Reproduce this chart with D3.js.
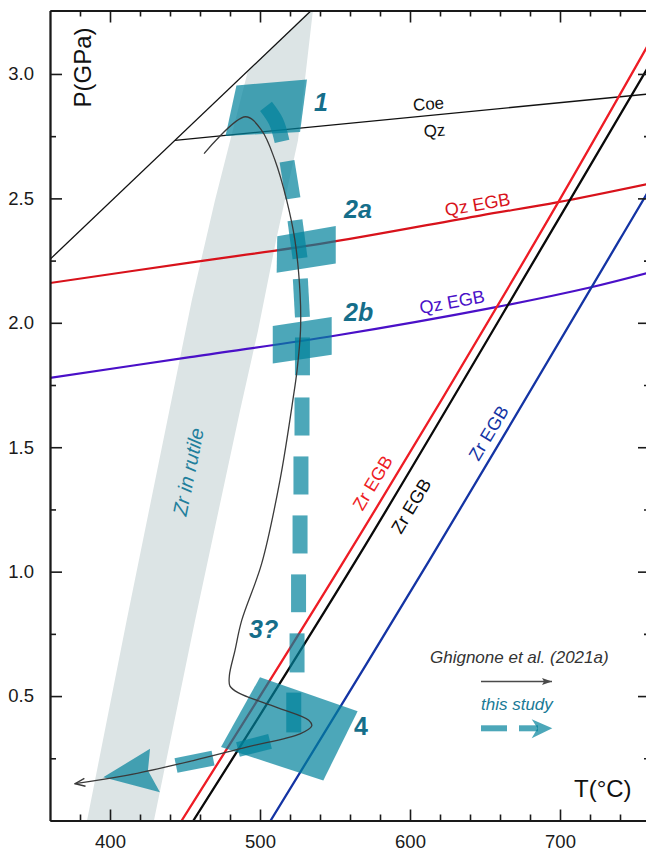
<!DOCTYPE html>
<html><head><meta charset="utf-8">
<script src="https://cdn.jsdelivr.net/npm/d3@7"></script>
<style>
html,body{margin:0;padding:0;background:#fff;}
svg{display:block;font-family:"Liberation Sans",Arial,sans-serif;}
</style></head><body>
<svg id="chart" width="646" height="851"></svg>
<script>
// ---------------- data (T in °C, P in GPa) ----------------
const xMajorTicks = [400, 500, 600, 700];
const xMinorTicks = [380, 420, 440, 460, 480, 520, 540, 560, 580, 620, 640, 660, 680, 720, 740];
const yMajorTicks = [0.5, 1.0, 1.5, 2.0, 2.5, 3.0];
const yMinorTicks = [0.25, 0.75, 1.25, 1.75, 2.25, 2.75];
const yTickLabels = ["0.5", "1.0", "1.5", "2.0", "2.5", "3.0"];

// Zr-in-rutile band edges
const bandLeft = [[384.7, 0], [411.1, 0.804], [454.5, 2.090], [470, 2.492], [492, 3.014], [533.3, 3.256]];
const bandRight = [[535.3, 3.256], [525.3, 2.733], [510.7, 2.331], [498.7, 1.969], [486.7, 1.648], [456.7, 0.804], [429.3, 0]];

// reaction / isomeke lines
const steepBlackLine = [[360, 2.255], [545, 3.317]];
const coeQzLine = [[443.3, 2.733], [760, 2.92]];
const qzEgbRed = [[360, 2.160], [453.3, 2.242], [540, 2.317], [646.7, 2.431], [698.7, 2.485], [760, 2.56]];
const qzEgbPurple = [[360, 1.779], [453.3, 1.862], [550.7, 1.949], [657.3, 2.063], [720.7, 2.143], [760, 2.203]];
const zrEgbRed = [[447.8, 0], [556.2, 1.045], [684, 2.331], [760, 3.13]];
const zrEgbBlack = [[455.6, 0], [564, 1.045], [690.7, 2.331], [760, 3.04]];
const zrEgbBlue = [[507.1, 0], [612.9, 1.045], [739.5, 2.331], [760, 2.54]];

// this study: P-T boxes
const box1 = [[484.3, 2.954], [531.3, 2.978], [526.7, 2.767], [477, 2.751]];
const box2a = [[511.5, 2.348], [550.5, 2.389], [550.5, 2.238], [511.1, 2.201]];
const box2b = [[508.5, 1.987], [547.8, 2.023], [547.8, 1.872], [508.5, 1.836]];
const box4 = [[500, 0.576], [565.1, 0.439], [542.2, 0.161], [474, 0.295]];

// this study: dashed path pieces
const pathDashes = [
  [[504, 2.870], [510.7, 2.809], [514.7, 2.729]],
  [[518, 2.649], [522, 2.500]],
  [[523.3, 2.412], [526.7, 2.259]],
  [[526.9, 2.177], [528.3, 2.023]],
  [[528.3, 1.941], [528.3, 1.789]],
  [[528, 1.700], [528, 1.547]],
  [[527.3, 1.463], [527.3, 1.310]],
  [[526.7, 1.226], [526.7, 1.073]],
  [[525.7, 0.989], [525.7, 0.837]],
  [[524.7, 0.752], [524.7, 0.595]],
  [[522.5, 0.514], [522.5, 0.354]],
  [[506.7, 0.318], [485.3, 0.285]],
  [[468.7, 0.251], [444, 0.221]]
];
const pathArrowHead = [[395.5, 0.174], [426.7, 0.288], [425.3, 0.201], [433.3, 0.114]];

// Ghignone et al. (2021a) path
const ghignonePath = [[462.7, 2.680], [490.3, 2.828], [501.1, 2.773], [510, 2.653], [517.8, 2.492],
  [523.3, 2.331], [526.7, 2.118], [527, 1.969], [524.7, 1.809], [522.2, 1.701], [513.3, 1.367],
  [501.1, 1.032], [487.8, 0.804], [483.3, 0.683], [479.6, 0.583], [480, 0.540], [486, 0.512],
  [511.1, 0.455], [532.5, 0.403], [534.5, 0.380], [526.7, 0.348], [491.1, 0.295], [455.5, 0.241],
  [411.1, 0.181], [376.7, 0.148]];

// annotation anchors [T, P]
const stageLabels = [
  {text: "1", at: [536, 2.85], italic: true},
  {text: "2a", at: [556, 2.42], italic: true},
  {text: "2b", at: [556, 2.006], italic: true},
  {text: "3?", at: [492.7, 0.732], italic: true},
  {text: "4", at: [562.7, 0.342], italic: false}
];

// ---------------- drawing ----------------
const svg = d3.select("#chart");
const x = d3.scaleLinear().domain([360, 760]).range([50, 650]);
const y = d3.scaleLinear().domain([0, 3.255]).range([820.5, 10.5]);

const teal = "rgb(0,130,155)";
const tealOp = 0.7;
const labelTeal = "#156e8a";

const defs = svg.append("defs");
defs.append("clipPath").attr("id", "plotclip").append("rect")
  .attr("x", x(360)).attr("y", y(3.255)).attr("width", x(760) - x(360)).attr("height", y(0) - y(3.255));
defs.append("marker").attr("id", "openArrow").attr("viewBox", "0 0 12 10")
  .attr("refX", 11).attr("refY", 5).attr("markerWidth", 12).attr("markerHeight", 10)
  .attr("markerUnits", "userSpaceOnUse").attr("orient", "auto")
  .append("path").attr("d", "M1,1 L11,5 L1,9").attr("fill", "none").attr("stroke", "#3a3a3a").attr("stroke-width", 1.4);
defs.append("marker").attr("id", "legArrow").attr("viewBox", "0 0 10 8")
  .attr("refX", 10).attr("refY", 4).attr("markerWidth", 10).attr("markerHeight", 8)
  .attr("markerUnits", "userSpaceOnUse").attr("orient", "auto")
  .append("path").attr("d", "M0,0.5 L10,4 L0,7.5 L2,4 Z").attr("fill", "#4a4a4a");

const plot = svg.append("g").attr("clip-path", "url(#plotclip)");

const lin = d3.line().x(d => x(d[0])).y(d => y(d[1]));
const smooth = d3.line().x(d => x(d[0])).y(d => y(d[1])).curve(d3.curveCatmullRom.alpha(0.5));

// band
plot.append("path").attr("d", lin(bandLeft.concat(bandRight)) + "Z")
  .attr("fill", "rgb(220,228,229)");

// lines
plot.append("path").attr("d", lin(steepBlackLine)).attr("fill", "none").attr("stroke", "#111").attr("stroke-width", 1.3);
plot.append("path").attr("d", lin(coeQzLine)).attr("fill", "none").attr("stroke", "#111").attr("stroke-width", 1.3);
plot.append("path").attr("d", smooth(qzEgbRed)).attr("fill", "none").attr("stroke", "#d8121b").attr("stroke-width", 2.2);
plot.append("path").attr("d", smooth(qzEgbPurple)).attr("fill", "none").attr("stroke", "#4a10c8").attr("stroke-width", 2.2);
plot.append("path").attr("d", smooth(zrEgbRed)).attr("fill", "none").attr("stroke", "#ee1c25").attr("stroke-width", 2.3);
plot.append("path").attr("d", smooth(zrEgbBlack)).attr("fill", "none").attr("stroke", "#0a0a0a").attr("stroke-width", 2.3);
plot.append("path").attr("d", smooth(zrEgbBlue)).attr("fill", "none").attr("stroke", "#1434a4").attr("stroke-width", 2.3);

// this study boxes
[box1, box2a, box2b, box4].forEach(b => {
  plot.append("path").attr("d", lin(b) + "Z").attr("fill", teal).attr("fill-opacity", tealOp);
});
// this study dashed path
pathDashes.forEach(seg => {
  plot.append("path").attr("d", seg.length > 2 ? smooth(seg) : lin(seg))
    .attr("fill", "none").attr("stroke", teal).attr("stroke-opacity", tealOp)
    .attr("stroke-width", 15).attr("stroke-linecap", "butt");
});
plot.append("path").attr("d", lin(pathArrowHead) + "Z").attr("fill", teal).attr("fill-opacity", tealOp);

// Ghignone path
plot.append("path").attr("d", smooth(ghignonePath)).attr("fill", "none")
  .attr("stroke", "#3a3a3a").attr("stroke-width", 1.3).attr("marker-end", "url(#openArrow)");

// ---------------- axes ----------------
function styleAxis(g) {
  g.selectAll("path.domain").attr("stroke", "#1a1a1a").attr("stroke-width", 1.8);
  g.selectAll(".tick line").attr("stroke", "#1a1a1a").attr("stroke-width", 1.6);
  g.selectAll(".tick text").attr("fill", "#1a1a1a").attr("font-size", 18.5)
    .attr("font-family", "Liberation Sans, Arial, sans-serif");
}
// bottom
svg.append("g").attr("transform", `translate(0,${y(0)})`)
  .call(d3.axisBottom(x).tickValues(xMinorTicks).tickSize(-6).tickFormat("").tickSizeOuter(0)).call(styleAxis);
svg.append("g").attr("transform", `translate(0,${y(0)})`)
  .call(d3.axisBottom(x).tickValues(xMajorTicks).tickSize(-11).tickPadding(14).tickFormat(d3.format("d")).tickSizeOuter(0)).call(styleAxis);
// top
svg.append("g").attr("transform", `translate(0,${y(3.255)})`)
  .call(d3.axisTop(x).tickValues(xMinorTicks).tickSize(-6).tickFormat("").tickSizeOuter(0)).call(styleAxis);
svg.append("g").attr("transform", `translate(0,${y(3.255)})`)
  .call(d3.axisTop(x).tickValues(xMajorTicks).tickSize(-12).tickFormat("").tickSizeOuter(0)).call(styleAxis);
// left
svg.append("g").attr("transform", `translate(${x(360)},0)`)
  .call(d3.axisLeft(y).tickValues(yMinorTicks).tickSize(-6).tickFormat("").tickSizeOuter(0)).call(styleAxis);
svg.append("g").attr("transform", `translate(${x(360)},0)`)
  .call(d3.axisLeft(y).tickValues(yMajorTicks).tickSize(-12).tickPadding(16)
    .tickFormat((d, i) => yTickLabels[i]).tickSizeOuter(0)).call(styleAxis);
// right
svg.append("g").attr("transform", `translate(${x(760)},0)`)
  .call(d3.axisRight(y).tickValues(yMinorTicks).tickSize(-6).tickFormat("").tickSizeOuter(0)).call(styleAxis);
svg.append("g").attr("transform", `translate(${x(760)},0)`)
  .call(d3.axisRight(y).tickValues(yMajorTicks).tickSize(-12).tickFormat("").tickSizeOuter(0)).call(styleAxis);

// axis titles
svg.append("text").attr("transform", "translate(91,67.5) rotate(-90)")
  .attr("text-anchor", "middle").attr("font-size", 24).attr("fill", "#111").text("P(GPa)");
svg.append("text").attr("x", 574).attr("y", 797)
  .attr("font-size", 24).attr("fill", "#111").text("T(°C)");

// ---------------- annotations ----------------
function rotLabel(text, T, P, angle, size, color, italic) {
  svg.append("text").attr("transform", `translate(${x(T)},${y(P)}) rotate(${angle})`)
    .attr("text-anchor", "middle").attr("dy", "0.35em")
    .attr("font-size", size).attr("fill", color)
    .attr("font-style", italic ? "italic" : "normal").text(text);
}
rotLabel("Coe", 612.3, 2.88, -5, 17, "#111", false);
rotLabel("Qz", 616.3, 2.773, -5, 17, "#111", false);
rotLabel("Qz EGB", 645, 2.476, -10, 18, "#d8121b", false);
rotLabel("Qz EGB", 628, 2.084, -10.5, 18, "#4a10c8", false);
rotLabel("Zr EGB", 575, 1.357, -59, 18, "#ee1c25", false);
rotLabel("Zr EGB", 600.7, 1.264, -59, 18, "#0a0a0a", false);
rotLabel("Zr EGB", 652.3, 1.557, -59, 18, "#1434a4", false);
rotLabel("Zr in rutile", 452.2, 1.401, -78.5, 20, "#1f7f9c", true);

stageLabels.forEach(s => {
  svg.append("text").attr("x", x(s.at[0])).attr("y", y(s.at[1]))
    .attr("font-size", 25).attr("font-weight", "bold")
    .attr("font-style", s.italic ? "italic" : "normal")
    .attr("fill", labelTeal).text(s.text);
});

// ---------------- legend ----------------
const leg = svg.append("g");
leg.append("text").attr("x", 430).attr("y", 663).attr("font-size", 17)
  .attr("font-style", "italic").attr("fill", "#333").text("Ghignone et al. (2021a)");
leg.append("line").attr("x1", 481).attr("x2", 552).attr("y1", 681.5).attr("y2", 681.5)
  .attr("stroke", "#4a4a4a").attr("stroke-width", 1.3).attr("marker-end", "url(#legArrow)");
leg.append("text").attr("x", 481).attr("y", 710).attr("font-size", 17)
  .attr("font-style", "italic").attr("fill", "#1a7a96").text("this study");
leg.append("line").attr("x1", 481).attr("x2", 507).attr("y1", 728.3).attr("y2", 728.3)
  .attr("stroke", teal).attr("stroke-opacity", tealOp).attr("stroke-width", 6);
leg.append("line").attr("x1", 519).attr("x2", 538).attr("y1", 728.3).attr("y2", 728.3)
  .attr("stroke", teal).attr("stroke-opacity", tealOp).attr("stroke-width", 6);
leg.append("path").attr("d", "M531.7,719.3 L552.3,728.3 L531.7,738.3 L537.5,728.3 Z")
  .attr("fill", teal).attr("fill-opacity", tealOp);
</script>
</body></html>
